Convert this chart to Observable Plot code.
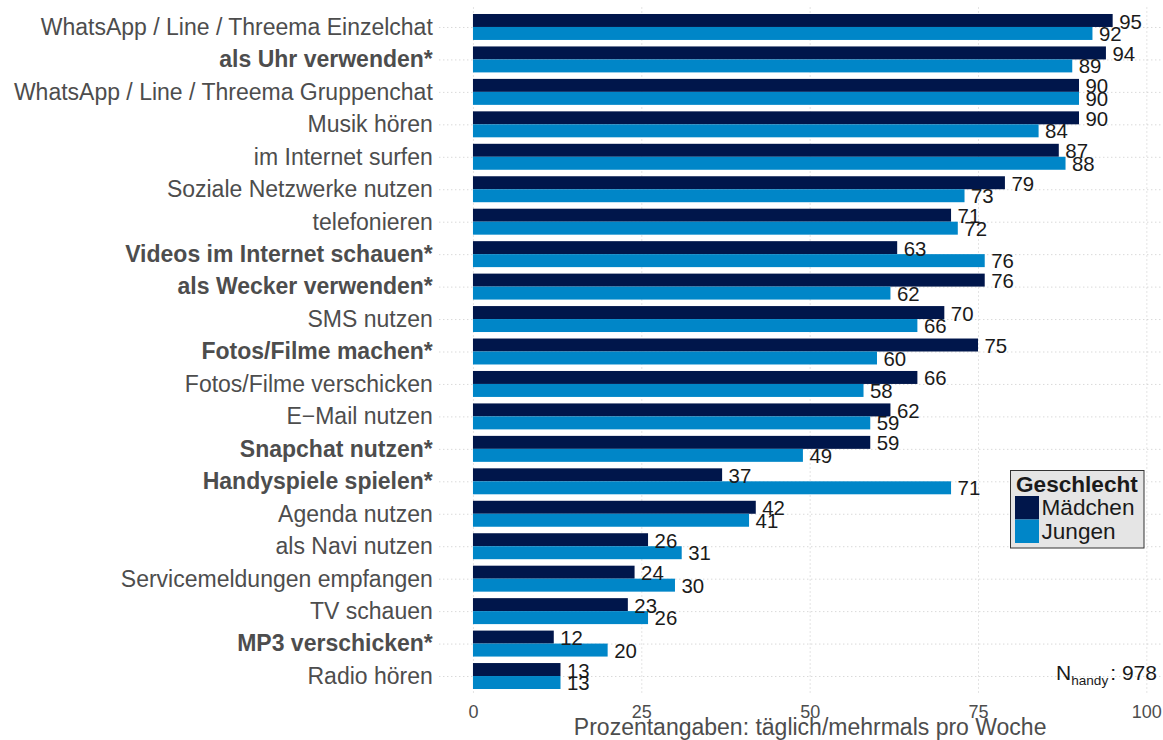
<!DOCTYPE html>
<html><head><meta charset="utf-8">
<script src="https://cdn.jsdelivr.net/npm/d3@7"></script>
<script src="https://cdn.jsdelivr.net/npm/@observablehq/plot@0.6"></script>
<style>
body{margin:0;background:#fff;}
#wrap{position:relative;width:1163px;height:740px;overflow:hidden;}
#wrap svg{display:block}
.ov{position:absolute;left:0;top:0;}
</style></head><body><div id="wrap"></div>
<script>
const categories = [
  "WhatsApp / Line / Threema Einzelchat",
  "als Uhr verwenden*",
  "WhatsApp / Line / Threema Gruppenchat",
  "Musik hören",
  "im Internet surfen",
  "Soziale Netzwerke nutzen",
  "telefonieren",
  "Videos im Internet schauen*",
  "als Wecker verwenden*",
  "SMS nutzen",
  "Fotos/Filme machen*",
  "Fotos/Filme verschicken",
  "E\u2212Mail nutzen",
  "Snapchat nutzen*",
  "Handyspiele spielen*",
  "Agenda nutzen",
  "als Navi nutzen",
  "Servicemeldungen empfangen",
  "TV schauen",
  "MP3 verschicken*",
  "Radio hören"
];
const maedchen = [95, 94, 90, 90, 87, 79, 71, 63, 76, 70, 75, 66, 62, 59, 37, 42, 26, 24, 23, 12, 13];
const jungen   = [92, 89, 90, 84, 88, 73, 72, 76, 62, 66, 60, 58, 59, 49, 71, 41, 31, 30, 26, 20, 13];
const groups = ["Mädchen", "Jungen"];
const groupColors = ["#00164b", "#0086c8"];
const xTicks = [0, 25, 50, 75, 100];
const xTitle = "Prozentangaben: täglich/mehrmals pro Woche";
const legendTitle = "Geschlecht";
const nMain = "N", nSub = "handy", nValue = "978";

const rows = categories.map((c, i) => ({cat: c, m: maedchen[i], j: jungen[i]}));

const W = 1163, H = 740, mt = 7.5, mb = 44.5, ml = 439.3, mr = -17;
const step = (H - mt - mb) / 21.2;
const half = step * 0.4;
const font = "'Liberation Sans', Arial, Helvetica, sans-serif";
const grid = {stroke: "#c8c8c8", strokeOpacity: 1, strokeDasharray: "1,3"};

const svg = Plot.plot({
  width: W, height: H,
  marginTop: mt, marginBottom: mb, marginLeft: ml, marginRight: mr,
  style: {fontFamily: font, background: "white", color: "#4d4d4d"},
  x: {domain: [-5, 105]},
  y: {domain: categories, paddingInner: 0.2, paddingOuter: 0.2, align: 0.5, round: false},
  marks: [
    Plot.gridX(xTicks, grid),
    Plot.gridY(categories, grid),
    Plot.barX(rows, {x: "m", y: "cat", fill: groupColors[0], insetBottom: half}),
    Plot.barX(rows, {x: "j", y: "cat", fill: groupColors[1], insetTop: half}),
    Plot.text(rows, {x: "m", y: "cat", text: d => String(d.m), dx: 6, dy: -5.5, textAnchor: "start", fontSize: 20.4, fill: "#1a1a1a"}),
    Plot.text(rows, {x: "j", y: "cat", text: d => String(d.j), dx: 6, dy: 7, textAnchor: "start", fontSize: 20.4, fill: "#1a1a1a"}),
    Plot.axisX({ticks: xTicks, tickSize: 0, tickPadding: 9, fontSize: 18, label: null, fill: "#4d4d4d"}),
    Plot.axisY({tickSize: 0, tickPadding: 7, fontSize: 23, label: null, fill: "#4d4d4d"}),
    Plot.text([xTitle], {frameAnchor: "bottom", lineAnchor: "middle", dy: 32, fontSize: 23, fill: "#4d4d4d"})
  ]
});

d3.select(svg).selectAll('g[aria-label="y-axis tick label"] text').each(function() {
  if (this.textContent.trim().endsWith("*")) d3.select(this).attr("font-weight", "bold");
});

const wrap = document.getElementById("wrap");
wrap.appendChild(svg);

// overlay: legend and sample size
const ov = d3.select(wrap).append("svg").attr("class", "ov")
  .attr("width", W).attr("height", H).style("font-family", font);

const lg = ov.append("g").attr("transform", "translate(1010.5,470.5)");
lg.append("rect").attr("x", 0).attr("y", 0).attr("width", 133.5).attr("height", 77.5)
  .attr("fill", "#e5e5e5").attr("stroke", "#333").attr("stroke-width", 1);
lg.append("text").attr("x", 5.5).attr("y", 21.5).attr("font-weight", "bold")
  .attr("font-size", 22.6).attr("fill", "#1a1a1a").text(legendTitle);
groups.forEach((g, i) => {
  lg.append("rect").attr("x", 4.5).attr("y", 25.5 + i * 23.5).attr("width", 24).attr("height", 23.5)
    .attr("fill", groupColors[i]);
  lg.append("text").attr("x", 31).attr("y", 44.5 + i * 24).attr("font-size", 22.6)
    .attr("fill", "#1a1a1a").text(g);
});

const nt = ov.append("text").attr("x", 1056).attr("y", 680).attr("font-size", 21).attr("fill", "#1a1a1a");
nt.append("tspan").text(nMain);
nt.append("tspan").attr("font-size", 13.6).attr("dy", 4.5).text(nSub);
nt.append("tspan").attr("dy", -4.5).attr("dx", 2).text(": " + nValue);
</script></body></html>
